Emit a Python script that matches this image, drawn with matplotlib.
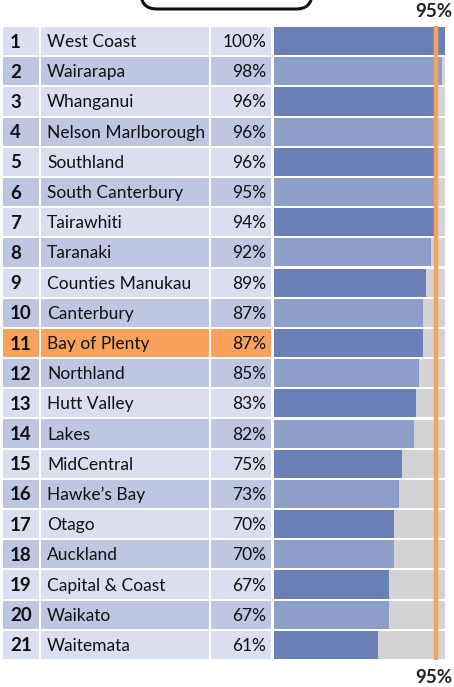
import matplotlib.pyplot as plt
from matplotlib.patches import FancyBboxPatch, Rectangle

regions = ["West Coast", "Wairarapa", "Whanganui", "Nelson Marlborough", "Southland",
           "South Canterbury", "Tairawhiti", "Taranaki", "Counties Manukau", "Canterbury",
           "Bay of Plenty", "Northland", "Hutt Valley", "Lakes", "MidCentral",
           "Hawke\u2019s Bay", "Otago", "Auckland", "Capital & Coast", "Waikato", "Waitemata"]
values = [100, 98, 96, 96, 96, 95, 94, 92, 89, 87, 87, 85, 83, 82, 75, 73, 70, 70, 67, 67, 61]
target = 95
highlight = "Bay of Plenty"

W, H = 454, 687
top, bottom = 26, 660
n = len(regions)
rowh = (bottom - top) / n

plt.rcParams['font.family'] = ['Lato', 'DejaVu Sans']

fig = plt.figure(figsize=(W / 100, H / 100), dpi=100)

# background axes in pixel coordinates for the table part
bg = fig.add_axes([0, 0, 1, 1])
bg.set_xlim(0, W)
bg.set_ylim(H, 0)
bg.axis('off')

# rounded title box, cut off at the top
bg.add_patch(FancyBboxPatch((141, -40), 171, 49, boxstyle="round,pad=0,rounding_size=16",
                            fc='white', ec='#111111', lw=2.2))

light_cell = '#dadeee'
dark_cell = '#bfc6e1'
orange = '#f8a25c'
cols = [(3, 39), (41, 209), (211, 271)]

for i, (name, v) in enumerate(zip(regions, values)):
    y0 = top + i * rowh + 1
    if name == highlight:
        c = orange
    else:
        c = light_cell if i % 2 == 0 else dark_cell
    for x0, x1 in cols:
        bg.add_patch(Rectangle((x0, y0), x1 - x0, rowh - 2, fc=c, ec='none'))
    yc = y0 + (rowh - 2) / 2 + 1
    bg.text(10, yc, str(i + 1), fontsize=13.5, fontweight='bold', va='center', ha='left', color='#111111')
    bg.text(47, yc, name, fontsize=12.5, va='center', ha='left', color='#111111')
    bg.text(266, yc, f"{v}%", fontsize=12.5, va='center', ha='right', color='#111111')

# bar axes
ax = fig.add_axes([274 / W, 1 - bottom / H, (445 - 274) / W, (bottom - top) / H])
ax.set_xlim(0, 100)
ax.set_ylim(n - 0.5, -0.5)
ax.axis('off')
ypos = list(range(n))
ax.barh(ypos, [100] * n, height=0.93, color='#d3d3d3', edgecolor='none')
bar_cols = ['#6b80b6' if i % 2 == 0 else '#8d9ec9' for i in range(n)]
ax.barh(ypos, values, height=0.93, color=bar_cols, edgecolor='none')
ax.axvline(target, color=orange, lw=3.2, ymin=0, ymax=1)
ax.annotate(f"{target}%", xy=(target, -0.7), xytext=(-3, 0), textcoords='offset pixels',
            fontsize=13.5, fontweight='bold', ha='center', va='bottom', color='#222222',
            annotation_clip=False)
ax.annotate(f"{target}%", xy=(target, n - 0.2), xytext=(-3, 0), textcoords='offset pixels',
            fontsize=13.5, fontweight='bold', ha='center', va='top', color='#222222',
            annotation_clip=False)

fig.savefig('out.png', dpi=100)
